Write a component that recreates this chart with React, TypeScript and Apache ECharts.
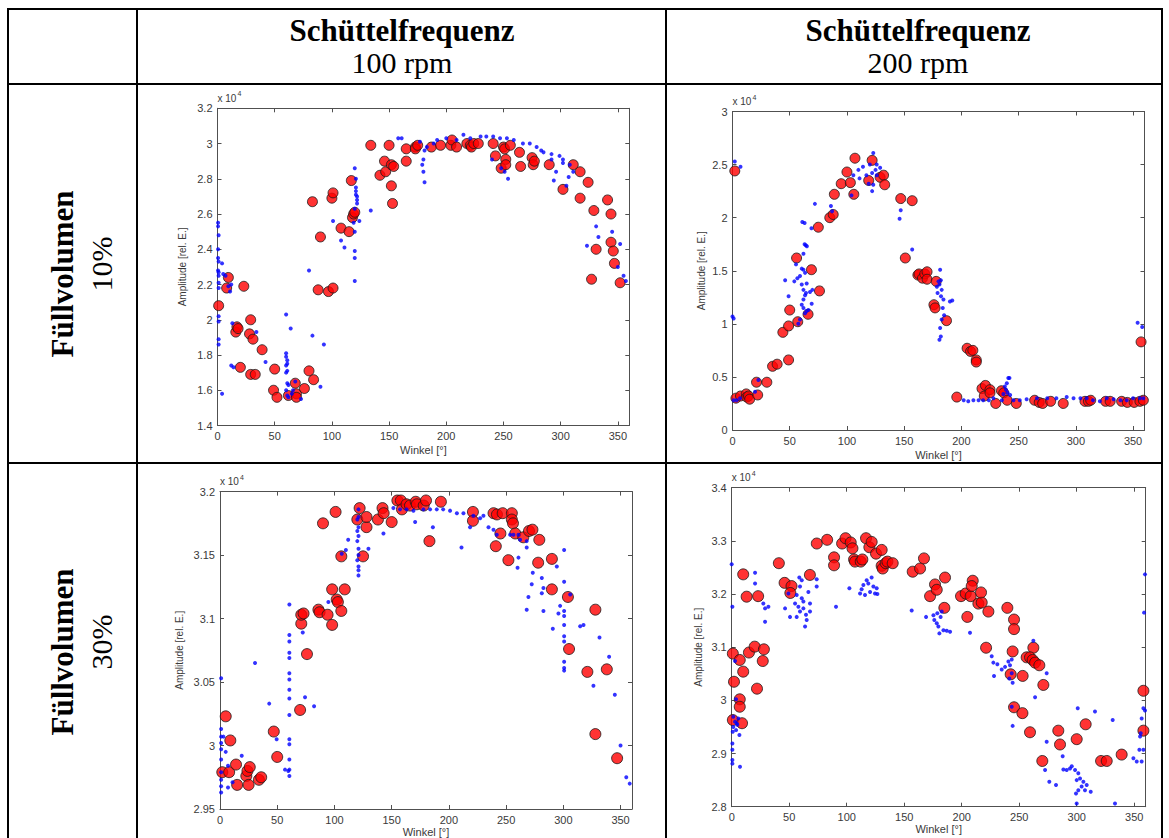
import React, { useEffect, useRef } from 'react';
import * as echarts from 'echarts';

// ---------- texts ----------
const colHeaderTitle = 'Schüttelfrequenz';
const colHeaderSub = ['100 rpm', '200 rpm'];
const rowHeaderTitle = 'Füllvolumen';
const rowHeaderSub = ['10%', '30%'];
const xName = 'Winkel [°]';
const yName = 'Amplitude [rel. E.]';

// ---------- data (angle [deg], amplitude [x 10^4]) ----------
// Plot 1: 100 rpm, 10 %
const p1Red: number[][] = [
  [1, 2.08], [8, 2.18], [9.5, 2.24], [16, 1.93], [17, 1.96], [18, 1.95], [20, 1.73], [23, 2.19], [28, 1.92], [29, 2.0],
  [29, 1.69], [31, 1.89], [33, 1.69], [39, 1.83], [49, 1.6], [50, 1.72], [52, 1.56], [62, 1.57], [68, 1.64], [69, 1.58],
  [69, 1.56], [76, 1.61], [80, 1.71], [83, 2.67], [84, 1.66], [88, 2.17], [90, 2.47], [97, 2.16], [100, 2.69], [101, 2.72],
  [101, 2.18], [108, 2.52], [115, 2.5], [117, 2.79], [118, 2.58], [119, 2.6], [120, 2.61], [134, 2.99], [142, 2.82], [146, 2.9],
  [147, 2.84], [150, 2.99], [152, 2.88], [152, 2.76], [153, 2.66], [154, 2.87], [165, 2.9], [165, 2.97], [173, 2.98], [173, 2.97],
  [175, 2.99], [187, 2.98], [195, 2.99], [204, 2.99], [205, 3.02], [209, 2.98], [218, 3.0], [221, 2.99], [222, 2.98], [224, 3.0],
  [228, 3.0], [241, 3.0], [243, 2.93], [248, 2.86], [250, 2.98], [251, 2.97], [252, 2.91], [252, 2.88], [256, 2.99], [264, 2.95],
  [265, 2.87], [275, 2.92], [276, 2.88], [277, 2.9], [290, 2.88], [302, 2.74], [311, 2.88], [317, 2.84], [317, 2.69], [324, 2.78],
  [327, 2.23], [329, 2.62], [331, 2.4], [341, 2.68], [344, 2.6], [344, 2.44], [346, 2.39], [347, 2.32], [352, 2.21]
];
const p1Blue: number[][] = [
  [0.5, 2.55], [0.5, 2.53], [1, 2.48], [0.5, 2.4], [0.5, 2.35], [1, 2.33], [0.5, 2.28], [4, 2.32], [1, 2.27], [1, 2.25],
  [1, 2.21], [1, 2.18], [1, 2.02], [1, 1.99], [1, 1.89], [1, 1.86], [5, 2.26], [7, 2.25], [9.5, 2.19], [12, 2.2],
  [11, 2.16], [4, 1.58], [12, 1.74], [14, 1.73], [13, 1.98], [34, 1.93], [42, 1.76], [60, 2.03], [64, 1.95], [60, 1.81],
  [60, 1.79], [61, 1.77], [61, 1.75], [60, 1.74], [61, 1.71], [60, 1.7], [61, 1.64], [62, 1.63], [60, 1.6], [61, 1.57],
  [62, 1.56], [65, 1.58], [66, 1.6], [68, 1.65], [73, 1.55], [83, 1.91], [93, 1.86], [90, 1.62], [80, 2.28], [120, 2.22],
  [101, 2.56], [108, 2.45], [111, 2.41], [120, 2.86], [121, 2.75], [121, 2.71], [122, 2.68], [122, 2.66], [120, 2.63], [119, 2.55],
  [120, 2.5], [120, 2.39], [120, 2.35], [124, 2.56], [121, 2.8], [121, 2.73], [122, 2.7], [134, 2.62], [158, 3.03], [161, 3.03],
  [180, 2.84], [181, 2.78], [179, 2.88], [180, 2.91], [181, 2.96], [183, 2.98], [177, 3.01], [189, 3.0], [192, 3.02], [200, 3.03],
  [209, 3.02], [215, 3.05], [221, 3.03], [230, 3.04], [235, 3.04], [241, 3.04], [247, 3.03], [253, 3.03], [259, 3.02], [267, 3.0],
  [273, 3.0], [279, 2.98], [285, 2.95], [292, 2.94], [299, 2.93], [302, 2.91], [308, 2.88], [311, 2.84], [307, 2.81], [305, 2.76],
  [296, 2.84], [294, 2.79], [302, 2.89], [292, 2.91], [283, 2.96], [240, 2.91], [248, 2.86], [251, 2.84], [254, 2.8], [323, 2.42],
  [331, 2.53], [333, 2.47], [345, 2.5], [350, 2.3], [352, 2.43], [355, 2.25], [357, 2.22]
];

// Plot 2: 200 rpm, 10 %
const p2Red: number[][] = [
  [2, 2.44], [3, 0.3], [7, 0.32], [12, 0.34], [12.5, 0.31], [14, 0.32], [15, 0.29], [21, 0.45], [22, 0.33], [30, 0.45],
  [35, 0.6], [39, 0.62], [44, 0.92], [49, 0.98], [49, 0.66], [50, 1.13], [56, 1.62], [57, 1.02], [66, 1.09], [69, 1.51],
  [76, 1.31], [75, 1.91], [85, 2.0], [88, 2.03], [89, 2.22], [95, 2.32], [100, 2.43], [103, 2.33], [106, 2.22], [107, 2.56],
  [119, 2.35], [122, 2.54], [129, 2.38], [132, 2.4], [133, 2.31], [147, 2.18], [151, 1.62], [157, 2.16], [162, 1.46], [163, 1.47],
  [166, 1.43], [168, 1.47], [170, 1.49], [170, 1.42], [176, 1.18], [177, 1.15], [178, 1.4], [187, 1.03], [196, 0.31], [205, 0.77],
  [208, 0.74], [210, 0.75], [213, 0.66], [213, 0.64], [218, 0.39], [220, 0.32], [221, 0.42], [225, 0.38], [225, 0.35], [230, 0.25],
  [235, 0.37], [237, 0.35], [240, 0.28], [248, 0.25], [264, 0.28], [268, 0.26], [271, 0.25], [278, 0.27], [289, 0.25], [308, 0.27],
  [311, 0.27], [313, 0.28], [326, 0.27], [330, 0.27], [340, 0.27], [345, 0.26], [351, 0.26], [356, 0.27], [357, 0.83], [359, 0.28]
];
const p2Blue: number[][] = [
  [2, 2.53], [7, 2.48], [72, 2.13], [61, 1.96], [63, 1.95], [69, 1.9], [63, 1.75], [64, 1.74], [65, 1.73], [62, 1.66],
  [60.5, 1.52], [55.5, 1.56], [86, 2.11], [87, 2.06], [104, 2.21], [105.6, 2.4], [110, 2.45], [114, 2.48], [117, 2.4], [111, 2.37],
  [123, 2.61], [125, 2.45], [120, 2.5], [122, 2.42], [126, 2.5], [129, 2.47], [122, 2.25], [119, 2.32], [123, 2.31], [126, 2.4],
  [146, 1.99], [147, 2.07], [157, 1.7], [0, 1.07], [1, 1.05], [1, 0.28], [3.6, 0.28], [6.6, 0.3], [22.6, 0.47], [19.7, 0.36],
  [46, 1.41], [49, 1.26], [54, 1.4], [56.7, 1.43], [59, 1.45], [60.5, 1.37], [62, 1.32], [63.4, 1.27], [62, 1.23], [60.5, 1.18],
  [62, 1.15], [63.4, 1.1], [64.8, 1.12], [59, 1.04], [57.5, 1.0], [66.3, 1.13], [69.2, 1.19], [64.8, 1.38], [63.4, 1.48], [62, 1.51],
  [64.2, 1.29], [67.7, 1.3], [69.8, 1.32], [181.4, 1.51], [182, 1.41], [180.8, 1.37], [182.8, 1.32], [182.2, 1.26], [184.3, 1.23], [183.7, 1.15],
  [184.9, 1.08], [182.8, 1.04], [181.4, 0.96], [182, 0.88], [180.8, 0.85], [190, 1.21], [192, 1.22], [180, 1.4], [178.6, 1.35], [179.2, 1.29],
  [202, 0.28], [206, 0.27], [210.5, 0.28], [215, 0.28], [219, 0.28], [224, 0.28], [228, 0.3], [238, 0.41], [239.7, 0.44], [241, 0.49],
  [242, 0.49], [236.7, 0.34], [242.6, 0.33], [245.5, 0.28], [239, 0.38], [240.3, 0.35], [235.4, 0.28], [251, 0.28], [257, 0.29], [266, 0.3],
  [275, 0.3], [283, 0.3], [292, 0.31], [298, 0.3], [304, 0.3], [309.5, 0.3], [315, 0.28], [321, 0.27], [327, 0.3], [333, 0.29],
  [339, 0.28], [344.5, 0.28], [350, 0.3], [356, 0.3], [359, 0.3], [354, 1.01], [358, 0.97]
];

// Plot 3: 100 rpm, 30 %
const p3Red: number[][] = [
  [2, 2.979], [5, 3.023], [8, 2.979], [9, 3.004], [14, 2.985], [15, 2.969], [23, 2.976], [24, 2.98], [25, 2.969], [26, 2.983],
  [34, 2.973], [36, 2.975], [47, 3.011], [50, 2.991], [70, 3.028], [71, 3.096], [71, 3.103], [73, 3.104], [76, 3.072], [86, 3.107],
  [87, 3.105], [90, 3.175], [94, 3.103], [98, 3.095], [98, 3.123], [101, 3.184], [102, 3.115], [103, 3.113], [106, 3.106], [106, 3.149],
  [109, 3.123], [120, 3.178], [122, 3.187], [125, 3.149], [128, 3.172], [128, 3.18], [138, 3.178], [142, 3.187], [143, 3.183], [150, 3.176],
  [155, 3.193], [158, 3.193], [159, 3.186], [163, 3.19], [166, 3.189], [171, 3.192], [172, 3.19], [178, 3.189], [180, 3.193], [183, 3.161],
  [193, 3.192], [221, 3.184], [221, 3.177], [239, 3.183], [242, 3.182], [245, 3.167], [241, 3.157], [247, 3.183], [252, 3.146], [255, 3.183],
  [255, 3.178], [256, 3.175], [258, 3.167], [265, 3.164], [270, 3.169], [273, 3.17], [279, 3.162], [278, 3.144], [290, 3.147], [290, 3.123],
  [304, 3.117], [305, 3.076], [321, 3.058], [328, 3.107], [328, 3.009], [338, 3.06], [347, 2.99]
];
const p3Blue: number[][] = [
  [1, 3.053], [1, 3.013], [1, 3.007], [1, 3.002], [1, 2.997], [1, 2.989], [1, 2.979], [1, 2.973], [1, 2.968], [1, 2.963],
  [5, 2.995], [7, 2.984], [19, 2.992], [11, 2.971], [7, 2.967], [3, 3.007], [30.6, 3.065], [43, 3.033], [49.5, 3.005], [56.8, 2.981],
  [59.7, 2.98], [60.6, 3.111], [60.6, 3.087], [60.6, 3.082], [60.6, 3.073], [60.6, 3.069], [60.6, 3.057], [60.6, 3.052], [60.6, 3.044], [60.6, 3.037],
  [60.6, 3.024], [60.6, 3.005], [60.6, 3.001], [60.6, 2.989], [60.6, 2.981], [60.6, 2.976], [72.3, 3.089], [74.3, 3.038], [82.2, 3.031], [94.7, 3.113],
  [106.4, 3.151], [110, 3.154], [112, 3.162], [121, 3.186], [121, 3.18], [120, 3.178], [121, 3.172], [120, 3.169], [121, 3.165], [120, 3.161],
  [121, 3.155], [121, 3.15], [120, 3.146], [121, 3.141], [121, 3.138], [121, 3.134], [129.7, 3.155], [142.8, 3.167], [170.5, 3.176], [186, 3.172],
  [211, 3.156], [218.5, 3.172], [151.5, 3.187], [157.3, 3.186], [163, 3.186], [169, 3.185], [177.7, 3.186], [183.6, 3.186], [189.4, 3.186], [195, 3.186],
  [201, 3.185], [207, 3.183], [212.7, 3.183], [221.4, 3.181], [227.3, 3.179], [230.2, 3.181], [234.6, 3.172], [239, 3.17], [241.8, 3.166], [253.5, 3.166],
  [256.4, 3.166], [260.8, 3.166], [262.2, 3.162], [260.8, 3.148], [260, 3.14], [268, 3.161], [268, 3.156], [268, 3.107], [269.5, 3.117], [272.4, 3.127],
  [273.3, 3.136], [281.2, 3.132], [282.6, 3.124], [281.2, 3.12], [282.6, 3.106], [290.8, 3.092], [294.3, 3.141], [295.7, 3.104], [297.2, 3.11], [300.7, 3.154],
  [300.7, 3.129], [300.7, 3.106], [300.7, 3.102], [300.7, 3.095], [300.7, 3.086], [300.7, 3.082], [300.7, 3.066], [300.7, 3.061], [300.7, 3.059], [306, 3.119],
  [314.7, 3.094], [317.6, 3.095], [326.3, 3.047], [331.6, 3.085], [340, 3.07], [345, 3.04], [350, 3.0], [355, 2.975], [358, 2.97]
];

// Plot 4: 200 rpm, 30 %
const p4Red: number[][] = [
  [1, 3.088], [2, 3.035], [1, 2.963], [7, 3.076], [7, 3.002], [7, 2.988], [9, 2.957], [10, 3.054], [10, 3.237], [13, 3.195],
  [15, 3.09], [20, 3.101], [22, 3.022], [23, 3.196], [28, 3.096], [27, 3.074], [41, 3.258], [46, 3.221], [52, 3.215], [51, 3.202],
  [68, 3.236], [74, 3.295], [83, 3.302], [89, 3.269], [89, 3.254], [96, 3.295], [99, 3.305], [103.5, 3.297], [105, 3.286], [106.4, 3.265],
  [107.2, 3.261], [112.2, 3.261], [113.6, 3.265], [116.8, 3.305], [119.7, 3.288], [121.7, 3.298], [125.5, 3.276], [130.4, 3.283], [130.4, 3.253], [131.3, 3.248],
  [133.9, 3.258], [135.4, 3.261], [140, 3.258], [157.4, 3.242], [163.8, 3.248], [167.2, 3.267], [172.5, 3.196], [176.8, 3.218], [178.3, 3.208], [185.5, 3.231],
  [184.9, 3.174], [199.4, 3.196], [203.5, 3.201], [207.8, 3.196], [209.6, 3.225], [208.7, 3.215], [204.9, 3.157], [214.5, 3.182], [217.4, 3.184], [216.8, 3.203],
  [223.2, 3.167], [221.2, 3.099], [239.7, 3.174], [245.5, 3.152], [245.5, 3.134], [244.3, 3.092], [242.6, 3.049], [253, 3.046], [245.5, 2.987], [252.8, 2.976],
  [259.4, 2.94], [262.3, 3.099], [256.5, 3.081], [259.4, 3.081], [261.7, 3.076], [263.8, 3.071], [267.5, 3.066], [271, 3.029], [270.1, 2.886], [284, 2.943],
  [285.5, 2.917], [300, 2.927], [307.8, 2.955], [321.2, 2.886], [326.1, 2.886], [339.1, 2.898], [358, 3.018], [358, 2.943]
];
const p4Blue: number[][] = [
  [0, 3.256], [0.6, 3.176], [0.6, 2.907], [0.6, 2.888], [0.6, 2.881], [1.4, 2.969], [2.9, 2.96], [4.3, 2.957], [1.4, 2.95], [3.8, 2.944],
  [0.9, 2.941], [4.9, 2.954], [5.8, 2.966], [0.6, 2.919], [3.8, 3.002], [6.7, 2.935], [7.2, 2.875], [2.9, 3.074], [20.3, 3.24], [20.3, 3.22],
  [27.5, 3.182], [29, 3.173], [31.9, 3.176], [29, 3.148], [46.4, 3.173], [50.7, 3.157], [49.3, 3.201], [58.8, 3.231], [60.9, 3.226], [59.4, 3.214],
  [56.5, 3.198], [55.1, 3.182], [58, 3.176], [59.4, 3.167], [62.3, 3.173], [65.2, 3.151], [63.8, 3.139], [64.6, 3.161], [56.5, 3.157], [60.9, 3.192],
  [66.7, 3.204], [68.1, 3.167], [68.1, 3.182], [62.3, 3.186], [73.9, 3.228], [73.9, 3.214], [90.7, 3.176], [102.3, 3.211], [111.6, 3.201], [113, 3.209],
  [114.5, 3.217], [117.4, 3.226], [118.8, 3.22], [121.7, 3.231], [123.2, 3.214], [120.3, 3.204], [126.1, 3.211], [124.6, 3.201], [126.7, 3.2], [115.9, 3.198],
  [156.5, 3.169], [169, 3.157], [175.4, 3.16], [176.2, 3.151], [178.3, 3.145], [179.7, 3.139], [180.6, 3.126], [181.7, 3.157], [182.6, 3.167], [178.8, 3.164],
  [184.1, 3.132], [187, 3.131], [189.9, 3.129], [207.2, 3.127], [226.1, 3.083], [227.5, 3.071], [231, 3.068], [228.1, 3.046], [234.8, 3.058], [237.7, 3.063],
  [240.6, 3.073], [243.5, 3.051], [241.4, 3.041], [244.3, 3.033], [243.5, 3.077], [242, 3.066], [243.5, 2.988], [244.3, 2.952], [262.3, 3.112], [263.8, 3.006],
  [273.9, 3.051], [273.9, 2.922], [272.5, 2.869], [276.2, 2.847], [282, 2.841], [287.8, 2.895], [288.4, 2.87], [291.3, 2.869], [294.2, 2.872], [295.7, 2.876],
  [298.6, 2.869], [301.4, 2.863], [302.9, 2.853], [305.8, 2.847], [308.7, 2.841], [300, 2.85], [304.3, 2.838], [301.4, 2.831], [307.2, 2.831], [312.2, 2.828],
  [299.4, 2.825], [300, 2.806], [300.9, 2.985], [315.9, 2.979], [331.3, 2.963], [333.3, 2.806], [349.3, 2.891], [352.2, 2.885], [355.1, 2.932], [356.5, 2.966],
  [358, 2.985], [359.4, 2.981], [358, 2.907], [356.5, 2.885], [358.6, 3.165], [359.4, 3.237], [354.5, 2.907], [355.7, 2.938]
];

// axis ranges (x 10^4)
const yRanges = [
  { min: 1.4, max: 3.2, interval: 0.2 },
  { min: 0, max: 3, interval: 0.5 },
  { min: 2.95, max: 3.2, interval: 0.05 },
  { min: 2.8, max: 3.4, interval: 0.1 }
];

// ---------- layout ----------
const grids = [
  { left: 217.5, top: 108.3, width: 411.8, height: 317.2 },
  { left: 732.5, top: 111.5, width: 412, height: 318.5 },
  { left: 220, top: 491.6, width: 412, height: 318 },
  { left: 731.7, top: 487.7, width: 414, height: 319 }
];
const yNameGaps = [30, 26, 36, 28];
const xNameGaps = [19, 19, 17, 17];

const AXC = '#505050';
const LBL = '#3a3a3a';
const SANS = 'Liberation Sans, Arial, sans-serif';
const SERIF = 'Liberation Serif, Times New Roman, serif';

export default function App() {
  const ref = useRef<HTMLDivElement>(null);
  useEffect(() => {
    if (!ref.current) return;
    const chart = echarts.init(ref.current, null, { renderer: 'svg' });

    const xAxis: any[] = [];
    const yAxis: any[] = [];
    const series: any[] = [];
    const graphic: any[] = [];
    const reds = [p1Red, p2Red, p3Red, p4Red];
    const blues = [p1Blue, p2Blue, p3Blue, p4Blue];

    grids.forEach((g, i) => {
      const common = {
        gridIndex: i,
        type: 'value',
        splitLine: { show: false },
        axisLine: { show: true, onZero: false, lineStyle: { color: AXC, width: 1 } },
        axisTick: { show: true, inside: true, length: 4, lineStyle: { color: AXC } }
      };
      xAxis.push({
        ...common, min: 0, max: 360, interval: 50, position: 'bottom',
        axisLabel: { color: LBL, fontSize: 11, fontFamily: SANS, margin: 5, showMaxLabel: false },
        name: xName, nameLocation: 'middle', nameGap: xNameGaps[i],
        nameTextStyle: { color: LBL, fontSize: 11, fontFamily: SANS }
      });
      xAxis.push({ ...common, min: 0, max: 360, interval: 50, position: 'top', axisLabel: { show: false } });
      const r = yRanges[i];
      yAxis.push({
        ...common, min: r.min, max: r.max, interval: r.interval, position: 'left',
        axisLabel: { color: LBL, fontSize: 11, fontFamily: SANS, margin: 5 },
        name: yName, nameLocation: 'middle', nameGap: yNameGaps[i], nameRotate: 90,
        nameTextStyle: { color: LBL, fontSize: 10, fontFamily: SANS }
      });
      yAxis.push({ ...common, min: r.min, max: r.max, interval: r.interval, position: 'right', axisLabel: { show: false } });

      const size = i < 2 ? 10 : 11;
      series.push({
        type: 'scatter', xAxisIndex: i * 2, yAxisIndex: i * 2, data: reds[i],
        symbol: 'circle', symbolSize: size,
        itemStyle: { color: '#ff0000', borderColor: '#1a1a1a', borderWidth: 1 }
      });
      series.push({
        type: 'scatter', xAxisIndex: i * 2, yAxisIndex: i * 2, data: blues[i],
        symbol: 'circle', symbolSize: 4,
        itemStyle: { color: '#0000ff' }
      });

      // "x 10^4" exponent label
      graphic.push({
        type: 'text', left: g.left, top: g.top - 15,
        style: { text: 'x 10', fill: LBL, font: `10px ${SANS}` }
      });
      graphic.push({
        type: 'text', left: g.left + 20, top: g.top - 18,
        style: { text: '4', fill: LBL, font: `7px ${SANS}` }
      });
    });

    // table lines
    const L = (x1: number, y1: number, x2: number, y2: number, w = 2) => ({
      type: 'line', shape: { x1, y1, x2, y2 }, style: { stroke: '#000', lineWidth: w }, z: 100
    });
    graphic.push(L(7, 9, 1163, 9));
    graphic.push(L(7, 84, 1163, 84));
    graphic.push(L(7, 463, 1163, 463));
    graphic.push(L(8, 8, 8, 838));
    graphic.push(L(137, 8, 137, 838));
    graphic.push(L(666, 8, 666, 838));
    graphic.push(L(1162, 8, 1162, 838));

    // headers
    const colCenters = [402, 918];
    colCenters.forEach((cx, j) => {
      graphic.push({
        type: 'text', x: cx, y: 30,
        style: { text: colHeaderTitle, fill: '#000', font: `bold 31px ${SERIF}`, align: 'center', verticalAlign: 'middle' }
      });
      graphic.push({
        type: 'text', x: cx, y: 62,
        style: { text: colHeaderSub[j], fill: '#000', font: `30px ${SERIF}`, align: 'center', verticalAlign: 'middle' }
      });
    });
    const rowCenters = [274, 652];
    rowCenters.forEach((cy, j) => {
      graphic.push({
        type: 'text', x: 62, y: cy, rotation: Math.PI / 2,
        style: { text: rowHeaderTitle, fill: '#000', font: `bold 31px ${SERIF}`, align: 'center', verticalAlign: 'middle' }
      });
      graphic.push({
        type: 'text', x: 101, y: cy - 10, rotation: Math.PI / 2,
        style: { text: rowHeaderSub[j], fill: '#000', font: `30px ${SERIF}`, align: 'center', verticalAlign: 'middle' }
      });
    });

    chart.setOption({
      animation: false,
      backgroundColor: '#ffffff',
      grid: grids.map((g) => ({ ...g, containLabel: false })),
      xAxis,
      yAxis,
      series,
      graphic
    });
    return () => chart.dispose();
  }, []);
  return (
    <div
      ref={ref}
      style={{ position: 'fixed', left: 0, top: 0, width: 1169, height: 838, background: '#fff' }}
    />
  );
}
